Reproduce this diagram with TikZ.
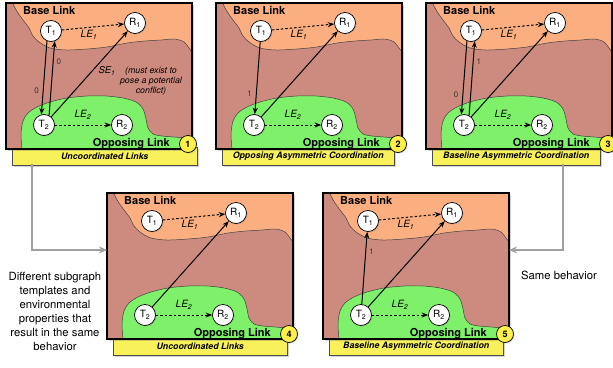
\documentclass[tikz,border=0pt]{standalone}
\usepackage{fontspec}
\setmainfont{TeX Gyre Heros}
\usetikzlibrary{arrows.meta,shadows}
\definecolor{bgbrown}{HTML}{CD8B80}
\definecolor{baseorange}{HTML}{FBAE80}
\definecolor{oppgreen}{HTML}{7FF06A}
\definecolor{labyellow}{HTML}{F9F15A}
\definecolor{numyellow}{HTML}{FFF04A}
\definecolor{guidegray}{HTML}{A0A0A0}
\definecolor{edgegray}{HTML}{333333}
\tikzset{
  softshadow/.style={drop shadow={shadow xshift=1.5pt, shadow yshift=-2pt, opacity=0.35}},
  ylab/.style={draw=black!70, line width=0.5pt, fill=labyellow, minimum height=18pt, inner sep=0pt,
    font=\fontsize{8.8}{9}\selectfont\bfseries\itshape, softshadow},
  nd/.style={circle, draw, line width=0.7pt, fill=white, minimum size=21pt, inner sep=0pt,
    font=\fontsize{10}{10}\selectfont, drop shadow={shadow xshift=1pt, shadow yshift=-1pt, opacity=0.3}},
  numc/.style={circle, draw, line width=0.7pt, fill=numyellow, minimum size=17pt, inner sep=0pt,
    font=\fontsize{9}{9}\selectfont\bfseries, drop shadow={shadow xshift=1pt, shadow yshift=-1pt, opacity=0.3}},
  boldlab/.style={font=\fontsize{11}{11}\selectfont\bfseries, inner sep=1pt},
  lelab/.style={font=\fontsize{10}{10}\selectfont\itshape, inner sep=0pt},
  arr/.style={-{Stealth[length=6.5pt, width=5pt]}, line width=1pt},
  dasharr/.style={arr, dash pattern=on 2.5pt off 2pt},
  lbl/.style={font=\fontsize{8}{8}\selectfont, text=edgegray, inner sep=1pt},
  guide/.style={draw=guidegray, line width=2.3pt, -{Stealth[length=8pt, width=7pt]}},
  sidetext/.style={font=\fontsize{11.3}{14}\selectfont, align=center, inner sep=0pt},
  pics/panel/.style n args={3}{code={
    \node[ylab, minimum width=#3, anchor=north west] (-lab) at (6,144) {#1};
    \fill[bgbrown, softshadow] (0,0) rectangle (186,146);
    \filldraw[fill=baseorange, draw=black!75, line width=0.5pt]
      (7,0) -- (186,0) -- (186,49) -- plot[smooth] coordinates {(186,49) (183,45) (178,39) (169,36)
      (155,37) (139,38) (121,40) (101,44) (81,46) (60,47) (44,45) (33,39) (27,33) (23,25)
      (17,17) (12,10) (8,3) (7,0)} -- cycle;
    \filldraw[fill=oppgreen, draw=black!75, line width=0.5pt]
      plot[smooth] coordinates {(16,146) (15,131) (17,118) (22,110) (31,104) (44,99) (61,95)
      (81,93) (100,93) (117,95) (130,99) (137,106) (140,116) (142,125) (147,131) (156,133)
      (168,134) (178,135) (186,137)} -- (186,146) -- cycle;
    \draw[line width=1.2pt] (0,0) rectangle (186,146);
    \node[boldlab, anchor=west] (-base) at (16,7) {Base Link};
    \node[boldlab, anchor=east] (-opp) at (165,141) {Opposing Link};
    \node[numc] (-num) at (182,141) {#2};
    \node[nd] (-T1) at (45,28) {T\textsubscript{1}};
    \node[nd] (-R1) at (129,20) {R\textsubscript{1}};
    \node[nd] (-T2) at (38,122) {T\textsubscript{2}};
    \node[nd] (-R2) at (116,122) {R\textsubscript{2}};
    \node[lelab] (-le1) at (83,32) {LE\textsubscript{1}};
    \node[lelab] (-le2) at (77,112) {LE\textsubscript{2}};
    \draw[dasharr] (-T1) -- (-R1);
    \draw[dasharr] (-T2) -- (-R2);
    \draw[arr] (-T2) -- (-R1);
    \coordinate (-w) at (0,65);
    \coordinate (-e) at (186,65);
  }}
}
\begin{document}
\begin{tikzpicture}[x=1pt, y=-1pt]
\useasboundingbox (0,0) rectangle (613,367);
% panels
\pic (p1) at (6,3) {panel={Uncoordinated Links}{1}{185}};
\pic (p2) at (216,3) {panel={Opposing Asymmetric Coordination}{2}{172}};
\pic (p3) at (426,3) {panel={Baseline Asymmetric Coordination}{3}{168}};
\pic (p4) at (107,193) {panel={Uncoordinated Links}{4}{174}};
\pic (p5) at (323,193) {panel={Baseline Asymmetric Coordination}{5}{174}};
% panel 1 extra
\draw[arr] (p1-T1.-112) -- node[lbl, left=3pt, pos=0.67] {0} (p1-T2.104);
\draw[arr] (p1-T2.62) -- node[lbl, right=2pt, pos=0.73] {0} (p1-T1.-70);
\node[font=\fontsize{9.5}{10}\selectfont\itshape, inner sep=0pt] (se1) at (107,71) {SE\textsubscript{1}};
\node[font=\fontsize{8.8}{10}\selectfont\itshape, align=center, inner sep=0pt] (se1note) at (151,81)
  {(must exist to\\pose a potential\\conflict)};
% panel 2 extra
\draw[arr] (p2-T1) -- node[lbl, left=3pt, pos=0.72] {1} (p2-T2);
% panel 3 extra
\draw[arr] (p3-T1.-112) -- node[lbl, left=3pt, pos=0.73] {0} (p3-T2.104);
\draw[arr] (p3-T2.62) -- node[lbl, right=2pt, pos=0.72] {1} (p3-T1.-70);
% panel 5 extra
\draw[arr] (p5-T2) -- node[lbl, right=2pt, pos=0.72] {1} (p5-T1);
% guides
\coordinate (gl) at (32,164);
\coordinate (gr) at (563,164);
\draw[guide] (gl) |- ([yshift=8pt]p4-w);
\draw[guide] (gr) |- ([yshift=8pt]p5-e);
\node[sidetext] (diff) at (55,311) {Different subgraph\\templates and\\environmental\\properties that\\result in the same\\behavior};
\node[sidetext] (same) at (559,275) {Same behavior};
\end{tikzpicture}
\end{document}
